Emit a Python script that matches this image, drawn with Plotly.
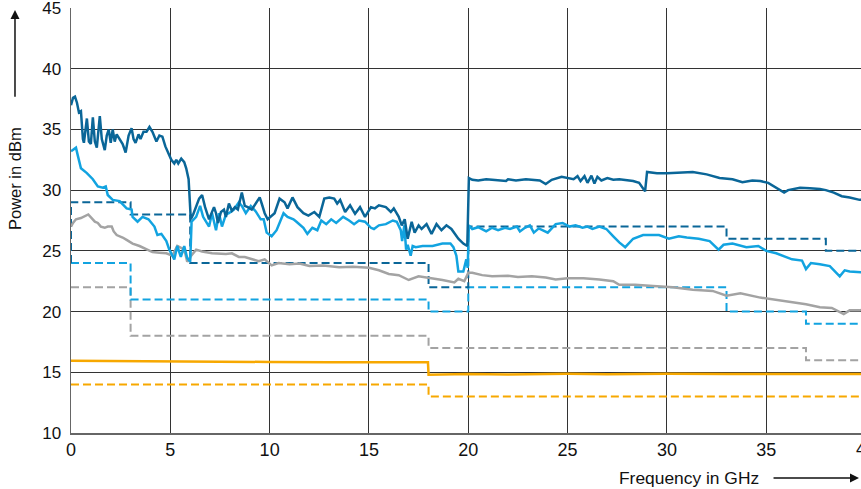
import plotly.graph_objects as go

# ---------------- data ----------------
dark_f = [0.0, 0.1, 0.2, 0.3, 0.4, 0.5, 0.6, 0.65, 0.8, 0.9, 1.0, 1.1, 1.2, 1.3, 1.45, 1.55, 1.7, 1.8, 1.9, 2.0,
          2.1, 2.2, 2.3, 2.45, 2.6, 2.75, 2.9, 3.05, 3.15, 3.25, 3.4, 3.5, 3.65, 3.8, 3.95, 4.1, 4.3, 4.45, 4.6, 4.75,
          4.9, 5.05, 5.2, 5.3, 5.4, 5.55, 5.7, 5.8, 5.92, 5.98, 6.03, 6.15, 6.3, 6.45, 6.6, 6.75, 6.95, 7.1, 7.2, 7.3,
          7.4, 7.55, 7.7, 7.8, 7.95, 8.1, 8.25, 8.4, 8.6, 8.75, 8.9, 9.1, 9.3, 9.5, 9.6, 9.75, 9.9, 10.1, 10.25, 10.5,
          10.75, 10.9, 11.15, 11.4, 11.7, 11.95, 12.25, 12.5, 12.75, 13.0, 13.25, 13.4, 13.55, 13.8, 14.05, 14.3, 14.55,
          14.8, 15.1, 15.3, 15.5, 15.85, 16.1, 16.25, 16.5, 16.65, 16.8, 16.95, 17.15, 17.3, 17.5, 17.65, 17.9, 18.15,
          18.4, 18.65, 18.9, 19.15, 19.5, 19.75, 19.95, 20.03, 20.2, 20.5, 20.9, 21.2, 21.6, 21.9, 22.0, 22.4, 22.9,
          23.3, 23.6, 23.9, 24.2, 24.7, 25.0, 25.3, 25.5, 25.65, 25.85, 26.0, 26.2, 26.35, 26.5, 26.7, 27.0, 27.3, 27.6,
          28.0, 28.3, 28.6, 28.9, 29.0, 29.5, 30.0, 30.6, 31.3, 32.0, 32.65, 33.3, 33.8, 34.3, 34.7, 35.1, 35.5, 35.9,
          36.1, 36.7, 37.2, 37.7, 38.0, 38.4, 38.8, 39.2, 39.7, 40.0]
dark_p = [37.0, 37.6, 37.7, 37.2, 36.4, 36.5, 34.2, 33.9, 35.9, 34.0, 33.8, 36.0, 34.0, 33.5, 36.1, 34.2, 33.3, 34.5, 35.0, 33.9,
          35.0, 34.0, 34.6, 34.2, 33.8, 33.1, 34.5, 35.1, 34.2, 33.9, 34.6, 34.2, 34.8, 34.8, 35.2, 34.8, 34.0, 34.5, 34.4, 33.6,
          33.0, 32.5, 32.2, 32.5, 32.2, 32.6, 32.3, 31.8, 30.9, 29.5, 27.6, 28.0, 28.7, 29.3, 29.6, 28.6, 27.6, 28.2, 28.6, 28.1,
          27.3, 28.2, 28.4, 27.8, 28.9, 28.3, 28.6, 28.4, 29.8, 28.7, 28.6, 28.4, 28.9, 29.4, 28.9, 28.1, 27.6, 27.9, 28.1, 29.3,
          29.0, 28.5, 29.4, 28.6, 28.1, 27.9, 28.2, 27.8, 29.3, 29.4, 29.3, 28.9, 29.2, 28.2, 28.75, 28.05, 28.6,
          27.8, 28.6, 28.5, 28.75, 28.6, 28.2, 28.5, 27.8, 27.1, 27.6, 26.0, 27.4, 26.5, 27.1, 26.8, 27.2, 26.4,
          27.2, 26.7, 27.1, 26.8, 26.0, 25.6, 25.4, 31.0, 30.85, 30.8, 30.9, 30.85, 30.8, 30.75, 30.9, 30.8, 30.9,
          30.85, 30.8, 30.5, 30.85, 31.1, 31.0, 30.9, 31.15, 30.75, 31.15, 30.6, 31.2, 30.55, 31.1, 30.8, 31.0, 30.85, 30.9,
          30.8, 30.75, 30.6, 29.9, 31.5, 31.4, 31.4, 31.45, 31.5, 31.3, 31.0, 30.9, 30.65, 30.8, 30.75, 30.6, 30.2, 29.8,
          30.0, 30.2, 30.15, 30.1, 30.0, 29.8, 29.5, 29.4, 29.2, 29.2]

light_f = [0.0, 0.12, 0.25, 0.35, 0.5, 0.8, 1.1, 1.35, 1.6, 1.75, 1.85, 2.1, 2.45, 2.8, 3.05, 3.1, 3.35, 3.6, 3.9, 4.2,
           4.35, 4.55, 4.8, 4.95, 5.2, 5.35, 5.53, 5.7, 5.85, 6.0, 6.07, 6.3, 6.5, 6.65, 6.95, 7.1, 7.3, 7.45, 7.6, 7.8,
           7.95, 8.2, 8.45, 8.6, 8.8, 9.05, 9.3, 9.55, 9.7, 9.85, 10.1, 10.35, 10.7, 10.9, 11.2, 11.35, 11.7, 11.9, 12.15,
           12.4, 12.6, 12.85, 13.1, 13.35, 13.7, 14.0, 14.25, 14.5, 14.8, 15.1, 15.25, 15.5, 15.85, 16.2, 16.4, 16.6,
           16.67, 16.78, 16.87, 16.95, 17.1, 17.2, 17.35, 17.7, 18.2, 18.7, 19.1, 19.25, 19.4, 19.5, 19.75, 19.9, 19.97,
           20.03, 20.2, 20.5, 20.9, 21.2, 21.5, 21.85, 22.1, 22.45, 22.6, 22.85, 23.1, 23.3, 23.55, 24.0, 24.4, 24.75,
           25.1, 25.4, 25.75, 26.0, 26.25, 26.6, 26.95, 27.3, 27.6, 27.9, 28.3, 28.8, 29.6, 30.1, 30.6, 31.0, 31.6, 32.15,
           32.6, 32.85, 33.3, 34.0, 34.6, 35.0, 35.5, 36.3, 36.8, 37.0, 37.25, 37.7, 38.2, 38.7, 38.95, 39.2, 39.7, 40.0]
light_p = [33.2, 33.35, 33.5, 32.8, 31.8, 31.4, 30.9, 30.3, 30.2, 30.3, 29.6, 29.2, 29.1, 28.5, 28.4, 27.8, 27.4, 27.8, 27.6, 27.0,
           26.3, 26.4, 25.8, 25.1, 24.3, 25.4, 24.5, 25.4, 24.4, 24.1, 27.4, 27.8, 28.7, 27.8, 27.0, 28.1, 26.7, 28.1, 27.0, 28.0,
           28.1, 28.4, 29.0, 28.7, 28.1, 28.7, 28.25, 27.6, 27.6, 26.5, 26.2, 26.7, 28.1, 27.8, 27.6, 27.4, 26.9, 26.4, 26.9,
           26.7, 27.5, 27.2, 27.6, 27.3, 27.8, 27.5, 27.2, 27.5, 27.4, 26.9, 26.8, 27.1, 27.2, 27.5, 27.4, 26.7,
           25.8, 27.1, 25.1, 25.5, 24.6, 25.4, 25.3, 25.4, 25.4, 25.6, 25.6, 25.3, 24.6, 23.3, 23.3, 24.3, 23.6,
           27.1, 26.8, 26.95, 26.6, 26.9, 26.7, 26.9, 26.8, 27.0, 26.6, 26.9, 27.1, 26.5, 26.85, 26.5, 27.2, 27.3,
           27.0, 27.1, 26.9, 27.0, 26.8, 27.0, 26.8, 26.2, 25.7, 25.3, 26.0, 26.3, 26.3, 26.0, 26.2, 26.1, 26.0, 25.8,
           25.1, 25.5, 25.6, 25.3, 25.4, 25.0, 24.8, 24.3, 24.2, 23.5, 24.0, 23.9, 23.75, 22.9, 23.4, 23.3, 23.2, 23.2]

gray_f = [0.0, 0.1, 0.25, 0.5, 0.87, 1.05, 1.2, 1.35, 1.5, 1.7, 1.85, 2.05, 2.15, 2.3, 2.6, 2.8, 3.1, 3.45, 3.8, 4.1,
          4.45, 4.8, 5.1, 5.35, 5.6, 5.75, 5.85, 6.0, 6.3, 6.6, 7.1, 7.8, 8.1, 8.45, 8.75, 9.1, 9.45, 9.75, 10.1, 10.45,
          11.0, 11.5, 12.0, 12.7, 13.5, 14.2, 15.0, 15.5, 16.0, 16.5, 17.0, 17.5, 18.0, 18.7, 19.3, 19.5, 19.8, 20.0,
          20.2, 20.7, 21.2, 22.0, 22.5, 23.2, 23.9, 24.4, 25.0, 25.8, 26.6, 27.3, 27.6, 28.4, 29.3, 30.3, 31.3, 32.3,
          33.0, 33.7, 34.7, 35.3, 36.3, 37.0, 37.7, 38.3, 38.9, 39.2, 39.7, 40.0]
gray_p = [27.0, 27.3, 27.6, 27.7, 28.0, 27.7, 27.4, 27.3, 27.0, 26.9, 27.0, 27.0, 26.6, 26.3, 26.1, 25.9, 25.6, 25.4, 25.1, 24.9,
          24.85, 24.8, 24.6, 25.4, 25.2, 24.8, 24.1, 24.5, 25.1, 24.95, 24.8, 24.75, 24.8, 24.5, 24.5, 24.3, 24.15, 24.3, 23.8, 24.0,
          23.9, 23.95, 23.75, 23.8, 23.65, 23.7, 23.6, 23.4, 23.1, 23.0, 22.6, 22.9, 22.8, 22.6, 22.4, 22.7, 22.5, 23.2,
          23.2, 23.0, 22.9, 22.95, 22.85, 22.9, 22.8, 22.65, 22.75, 22.75, 22.65, 22.5, 22.2, 22.2, 22.1, 22.0, 21.8, 21.7,
          21.3, 21.5, 21.15, 21.0, 20.75, 20.6, 20.35, 20.3, 19.8, 20.1, 20.1, 20.2]

orange_f = [0.0, 2.0, 5.0, 7.0, 10.0, 13.0, 16.0, 17.97, 18.0, 20.0, 22.0, 25.0, 27.0, 30.0, 33.0, 35.0, 37.0, 40.0]
orange_p = [15.95, 15.92, 15.88, 15.85, 15.85, 15.83, 15.85, 15.82, 14.8, 14.85, 14.82, 14.87, 14.84, 14.88, 14.85, 14.85, 14.83, 14.85]

# limit lines (step functions)
dark_lim_f = [0, 0, 3, 6, 18, 20, 33, 38, 40]
dark_lim_p = [24, 29, 28, 24, 22, 27, 26, 25, 25]
light_lim_f = [0, 3, 18, 20, 33, 37, 40]
light_lim_p = [24, 21, 20, 22, 20, 19, 19]
gray_lim_f = [0, 3, 18, 37, 40]
gray_lim_p = [22, 18, 17, 16, 16]
orange_lim_f = [0, 18, 40]
orange_lim_p = [14, 13, 13]

x_ticks = [0, 5, 10, 15, 20, 25, 30, 35]
last_x_tick = 40
y_ticks = [10, 15, 20, 25, 30, 35, 40, 45]

# ---------------- styling ----------------
C_DARK = "#0a6698"
C_LIGHT = "#12a3e0"
C_GRAY = "#a3a3a3"
C_ORANGE = "#f7a800"
FONT = "Liberation Sans, Arial, sans-serif"

fig = go.Figure()
for f, p, c in [(gray_lim_f, gray_lim_p, C_GRAY), (orange_lim_f, orange_lim_p, C_ORANGE),
                (light_lim_f, light_lim_p, C_LIGHT), (dark_lim_f, dark_lim_p, C_DARK)]:
    fig.add_trace(go.Scatter(x=f, y=p, mode="lines", line=dict(color=c, width=2, dash="8px,4px", shape="hv"),
                             hoverinfo="skip", showlegend=False))
for f, p, c in [(gray_f, gray_p, C_GRAY), (orange_f, orange_p, C_ORANGE),
                (light_f, light_p, C_LIGHT), (dark_f, dark_p, C_DARK)]:
    fig.add_trace(go.Scatter(x=f, y=p, mode="lines", line=dict(color=c, width=2.5),
                             hoverinfo="skip", showlegend=False))

X_MAX = 39.77  # the plot runs past the right edge of the window, as in the reference
fig.update_layout(
    template="none",
    width=861, height=489,
    margin=dict(l=71, r=0, t=8, b=56, autoexpand=False),
    paper_bgcolor="white", plot_bgcolor="white",
    font=dict(family=FONT, size=17, color="#111"),
    xaxis=dict(range=[0, X_MAX], tickvals=x_ticks, showgrid=True, gridcolor="#333", gridwidth=1,
               zeroline=False, showline=True, linecolor="#666", linewidth=1.5, ticks="",
               tickfont=dict(size=18), fixedrange=True, automargin=False),
    yaxis=dict(range=[10, 45], tickvals=y_ticks, showgrid=True, gridcolor="#333", gridwidth=1,
               zeroline=False, showline=True, linecolor="#666", linewidth=1.5, ticks="",
               ticklabelstandoff=5, ticklabeloverflow="allow", tickfont=dict(size=17),
               fixedrange=True, automargin=False),
    annotations=[
        dict(text=str(last_x_tick), xref="paper", yref="paper", x=last_x_tick / X_MAX, y=0,
             xanchor="center", yanchor="top", yshift=-4, showarrow=False, font=dict(size=18)),
        dict(text="Power in dBm", xref="paper", yref="paper", x=-0.0709, y=0.6, textangle=-90,
             xanchor="center", yanchor="middle", showarrow=False, font=dict(size=16.5)),
        dict(text="", xref="paper", yref="paper", x=-0.0709, y=0.995, ax=0, ay=88, showarrow=True,
             arrowhead=2, arrowsize=1.2, arrowwidth=1.5, arrowcolor="#111"),
        dict(text="Frequency in GHz", xref="paper", yref="paper", x=0.782, y=-0.106,
             xanchor="center", yanchor="middle", showarrow=False, font=dict(size=17.4)),
        dict(text="", xref="paper", yref="paper", x=0.9975, y=-0.106, ax=-87, ay=0, showarrow=True,
             arrowhead=2, arrowsize=1.2, arrowwidth=1.5, arrowcolor="#111"),
    ],
)

fig.write_html("out.html", config={"displayModeBar": False, "staticPlot": True},
               post_script="document.body.style.margin='0';")
